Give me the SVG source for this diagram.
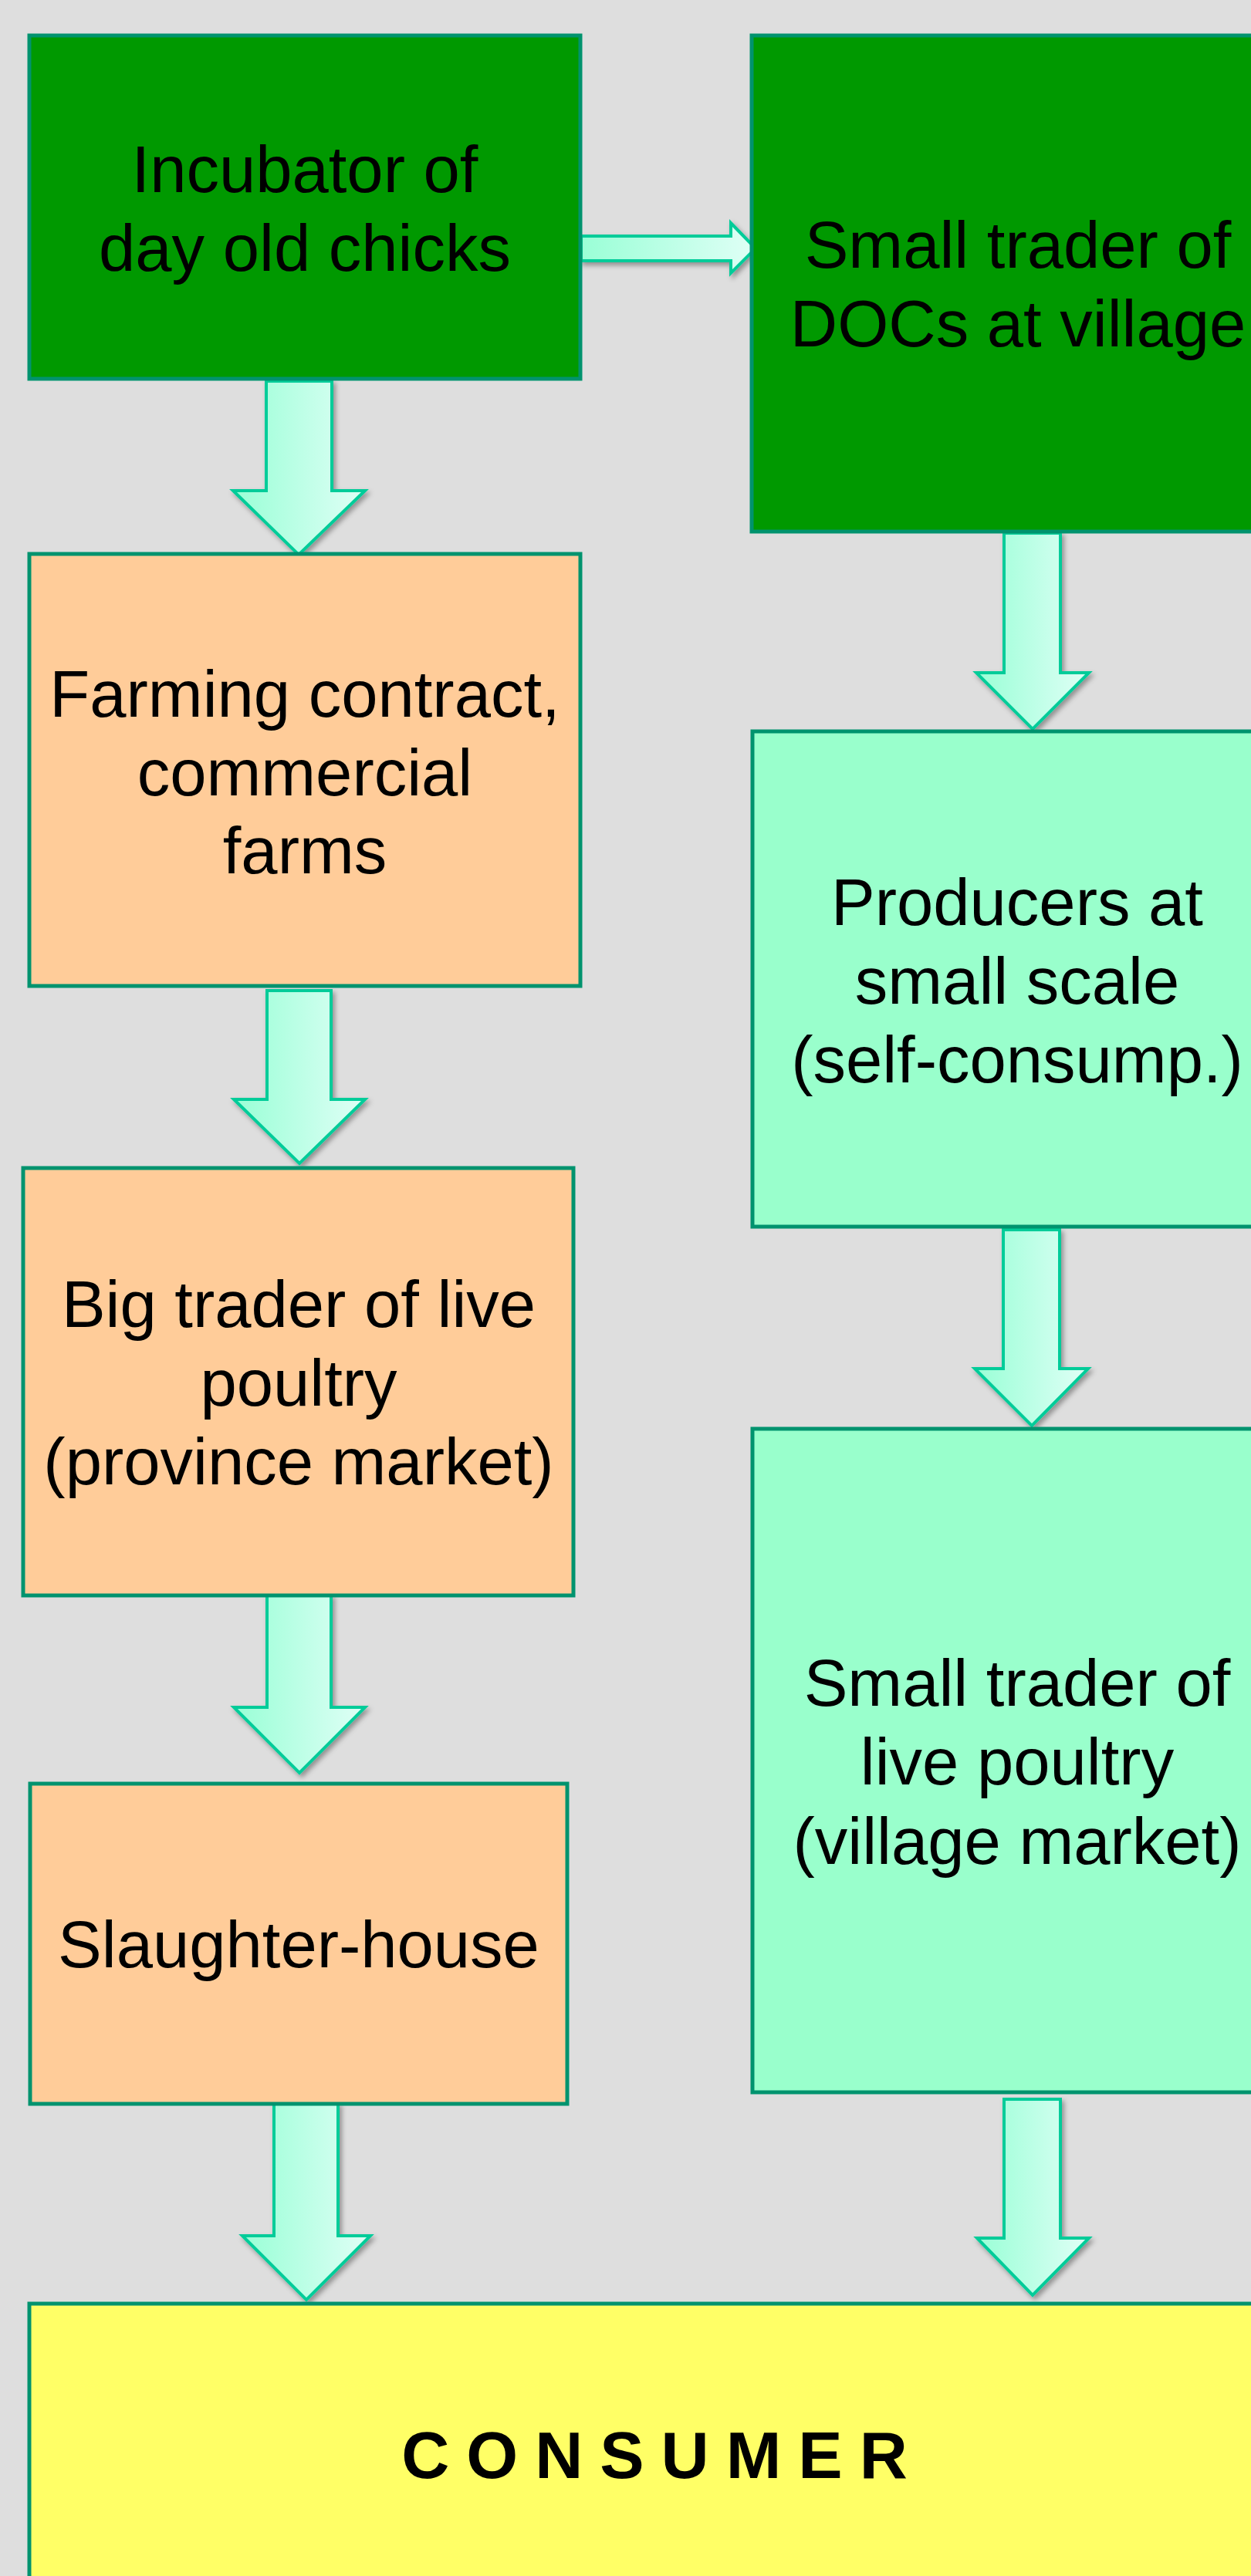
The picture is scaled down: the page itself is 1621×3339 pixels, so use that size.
<svg xmlns="http://www.w3.org/2000/svg" width="1621" height="3339" viewBox="0 0 1621 3339">
<defs>
<linearGradient id="ag" x1="0" y1="0" x2="1" y2="0">
<stop offset="0" stop-color="#99ffd6"/>
<stop offset="1" stop-color="#e0fff6"/>
</linearGradient>
<filter id="sh" x="-20%" y="-10%" width="150%" height="130%">
<feDropShadow dx="3" dy="4" stdDeviation="3" flood-color="#000" flood-opacity="0.35"/>
</filter>
</defs>
<style>
.box{stroke:#00936e;stroke-width:5}
.g{fill:#009900}
.p{fill:#ffcc99}
.m{fill:#99ffcc}
.y{fill:#ffff66}
.arr{fill:url(#ag);stroke:#00cc99;stroke-width:4;stroke-linejoin:miter;filter:url(#sh)}
.t{font-family:"Liberation Sans",Arial,sans-serif;font-size:85px;fill:#000;text-anchor:middle}
.c{font-family:"Liberation Sans",Arial,sans-serif;font-size:86px;font-weight:bold;letter-spacing:22px;fill:#000;text-anchor:middle}
</style>
<rect width="1621" height="3339" fill="#dedede"/>
<g id="connectors">
<path class="arr" d="M345,494 H430 V636 H473 L387,719 L302,636 H345 Z"/>
<path class="arr" d="M346,1284 H429 V1425 H473 L388,1508 L303,1425 H346 Z"/>
<path class="arr" d="M346,2068 H429 V2213 H473 L388,2298 L303,2213 H346 Z"/>
<path class="arr" d="M355,2727 H438 V2898 H480 L397,2981 L314,2898 H355 Z"/>
<path class="arr" d="M1301,691 H1374 V872 H1411 L1338,945 L1265,872 H1301 Z"/>
<path class="arr" d="M1300,1594 H1373 V1774 H1410 L1337,1848 L1263,1774 H1300 Z"/>
<path class="arr" d="M1301,2721 H1374 V2901 H1411 L1338,2975 L1266,2901 H1301 Z"/>
<path class="arr" d="M753,306 H947 V289 L979,322 L947,354 V338 H753 Z"/>
</g>
<g id="incubator">
<rect class="box g" x="38" y="46" width="714" height="445"/>
<text class="t" x="395" y="249">Incubator of</text>
<text class="t" x="395" y="351">day old chicks</text>
</g>
<g id="small-trader-docs">
<rect class="box g" x="974" y="46" width="700" height="643"/>
<text class="t" x="1319" y="347">Small trader of</text>
<text class="t" x="1319" y="449">DOCs at village</text>
</g>
<g id="farming">
<rect class="box p" x="38" y="718" width="714" height="560"/>
<text class="t" x="395" y="929">Farming contract,</text>
<text class="t" x="395" y="1031">commercial</text>
<text class="t" x="395" y="1132">farms</text>
</g>
<g id="producers">
<rect class="box m" x="975" y="948" width="700" height="642"/>
<text class="t" x="1318" y="1199">Producers at</text>
<text class="t" x="1318" y="1301">small scale</text>
<text class="t" x="1318" y="1403">(self-consump.)</text>
</g>
<g id="big-trader">
<rect class="box p" x="30" y="1514" width="713" height="554"/>
<text class="t" x="387" y="1720">Big trader of live</text>
<text class="t" x="387" y="1822">poultry</text>
<text class="t" x="387" y="1924">(province market)</text>
</g>
<g id="small-trader-live">
<rect class="box m" x="975" y="1852" width="700" height="860"/>
<text class="t" x="1318" y="2211">Small trader of</text>
<text class="t" x="1318" y="2313">live poultry</text>
<text class="t" x="1318" y="2416">(village market)</text>
</g>
<g id="slaughter">
<rect class="box p" x="39" y="2312" width="696" height="415"/>
<text class="t" x="387" y="2550">Slaughter-house</text>
</g>
<g id="consumer">
<rect class="box y" x="38" y="2986" width="1640" height="400"/>
<text class="c" x="859" y="3212">CONSUMER</text>
</g>
</svg>
